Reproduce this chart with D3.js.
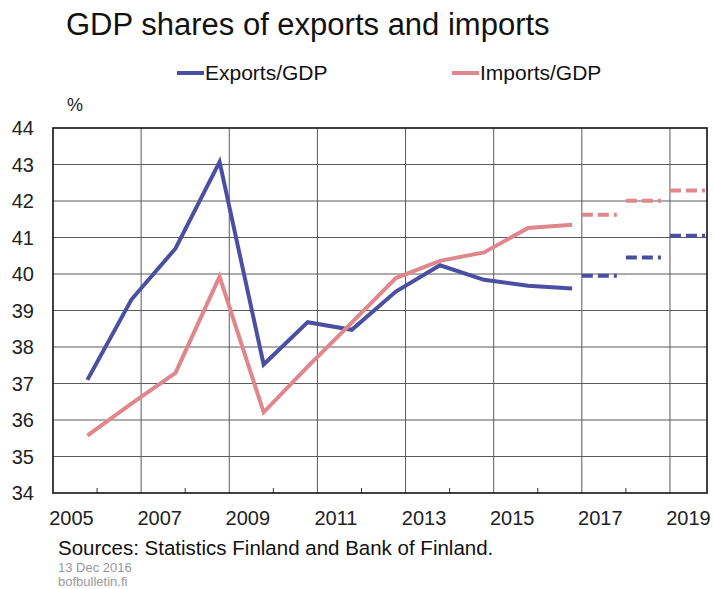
<!DOCTYPE html>
<html>
<head>
<meta charset="utf-8">
<script src="https://cdn.jsdelivr.net/npm/d3@7"></script>
<style>
  body { margin: 0; background: #fff; }
  svg { display: block; font-family: "Liberation Sans", Arial, sans-serif; }
  .title { font-size: 31px; fill: #111; }
  .legend-label { font-size: 21px; fill: #111; }
  .tick-label { font-size: 20px; fill: #222; }
  .source { font-size: 20.5px; fill: #111; }
  .small { font-size: 13px; fill: #999; }
</style>
</head>
<body>
<div class="graphic"></div>
<script>
const years = [2005, 2006, 2007, 2008, 2009, 2010, 2011, 2012, 2013, 2014, 2015, 2016]
const exportsGdp = [37.1, 39.3, 40.7, 43.07, 37.52, 38.68, 38.47, 39.52, 40.24, 39.84, 39.68, 39.6]
const importsGdp = [35.57, 36.45, 37.29, 39.93, 36.21, 37.46, 38.67, 39.89, 40.36, 40.59, 41.26, 41.35]

const forecastYears = [2017, 2018, 2019]
const exportsForecast = [39.95, 40.45, 41.05]
const importsForecast = [41.62, 42.01, 42.29]

const yTicks = [34, 35, 36, 37, 38, 39, 40, 41, 42, 43, 44]
const xLabels = [2005, 2007, 2009, 2011, 2013, 2015, 2017, 2019]
const gridYears = [2007, 2009, 2011, 2013, 2015, 2017, 2019]
const minorYears = [2006, 2008, 2010, 2012, 2014, 2016, 2018]

const seriesNames = ["Exports/GDP", "Imports/GDP"]
const colors = ["#4b4fa1", "#e0878d"]

const width = 714
const height = 589
const margin = {top: 128, right: 7, bottom: 96, left: 53}
const pointOffset = 0.78

function setupChart(){
    let svg = d3.select(".graphic").append("svg")
        .attr("width", width)
        .attr("height", height)

    let x = d3.scaleLinear()
        .domain([2005, 2019.84])
        .range([margin.left, width - margin.right])

    let y = d3.scaleLinear()
        .domain([34, 44])
        .range([height - margin.bottom, margin.top])

    svg.append("text")
        .attr("class", "title")
        .attr("x", 66)
        .attr("y", 35)
        .text("GDP shares of exports and imports")

    // legend
    let legendX = [177, 452]
    seriesNames.forEach(function(name, i){
        svg.append("line")
            .attr("x1", legendX[i])
            .attr("x2", legendX[i] + 27)
            .attr("y1", 73)
            .attr("y2", 73)
            .attr("stroke", colors[i])
            .attr("stroke-width", 4)
        svg.append("text")
            .attr("class", "legend-label")
            .attr("x", legendX[i] + 28)
            .attr("y", 80)
            .text(name)
    })

    svg.append("text")
        .attr("class", "tick-label")
        .attr("x", 67)
        .attr("y", 111)
        .style("font-size", "18px")
        .text("%")

    svg.append("clipPath")
        .attr("id", "plot-clip")
        .append("rect")
        .attr("x", margin.left)
        .attr("y", margin.top)
        .attr("width", width - margin.left - margin.right)
        .attr("height", height - margin.top - margin.bottom)

    // grid
    svg.selectAll("line.hgrid")
        .data(yTicks.slice(1, -1))
        .enter()
        .append("line")
        .attr("class", "hgrid")
        .attr("x1", margin.left)
        .attr("x2", width - margin.right)
        .attr("y1", d => y(d))
        .attr("y2", d => y(d))
        .attr("stroke", "#5a5a5a")
        .attr("stroke-width", 1)

    svg.selectAll("line.vgrid")
        .data(gridYears)
        .enter()
        .append("line")
        .attr("class", "vgrid")
        .attr("x1", d => x(d))
        .attr("x2", d => x(d))
        .attr("y1", margin.top)
        .attr("y2", height - margin.bottom)
        .attr("stroke", "#5a5a5a")
        .attr("stroke-width", 1)

    svg.selectAll("line.minor")
        .data(minorYears)
        .enter()
        .append("line")
        .attr("class", "minor")
        .attr("x1", d => x(d))
        .attr("x2", d => x(d))
        .attr("y1", height - margin.bottom)
        .attr("y2", height - margin.bottom - 5)
        .attr("stroke", "#333")
        .attr("stroke-width", 1)

    svg.append("rect")
        .attr("x", margin.left)
        .attr("y", margin.top)
        .attr("width", width - margin.left - margin.right)
        .attr("height", height - margin.top - margin.bottom)
        .attr("fill", "none")
        .attr("stroke", "#111")
        .attr("stroke-width", 1.6)

    // axis labels
    svg.selectAll("text.ylab")
        .data(yTicks)
        .enter()
        .append("text")
        .attr("class", "tick-label")
        .attr("x", 34)
        .attr("y", d => y(d))
        .attr("dy", "0.36em")
        .attr("text-anchor", "end")
        .text(d => d)

    svg.selectAll("text.xlab")
        .data(xLabels)
        .enter()
        .append("text")
        .attr("class", "tick-label")
        .attr("x", d => x(d + 0.42))
        .attr("y", 525)
        .attr("text-anchor", "middle")
        .text(d => d)

    let line = d3.line()
        .x((d, i) => x(years[i] + pointOffset))
        .y(d => y(d))

    let plot = svg.append("g").attr("clip-path", "url(#plot-clip)");

    [exportsGdp, importsGdp].forEach(function(values, i){
        plot.append("path")
            .datum(values)
            .attr("d", line)
            .attr("fill", "none")
            .attr("stroke", colors[i])
            .attr("stroke-width", 4)
    });

    [exportsForecast, importsForecast].forEach(function(values, i){
        plot.selectAll("line.fc" + i)
            .data(values)
            .enter()
            .append("line")
            .attr("x1", (d, j) => x(forecastYears[j]))
            .attr("x2", (d, j) => x(forecastYears[j] + 1))
            .attr("y1", d => y(d))
            .attr("y2", d => y(d))
            .attr("stroke", colors[i])
            .attr("stroke-width", 4)
            .attr("stroke-dasharray", "11,5,11,5,3,9")
    })

    svg.append("text")
        .attr("class", "source")
        .attr("x", 58)
        .attr("y", 555)
        .text("Sources:  Statistics Finland and Bank of Finland.")

    svg.append("text")
        .attr("class", "small")
        .attr("x", 58)
        .attr("y", 572)
        .text("13 Dec 2016")

    svg.append("text")
        .attr("class", "small")
        .attr("x", 58)
        .attr("y", 586)
        .text("bofbulletin.fi")
}

setupChart()
</script>
</body>
</html>
